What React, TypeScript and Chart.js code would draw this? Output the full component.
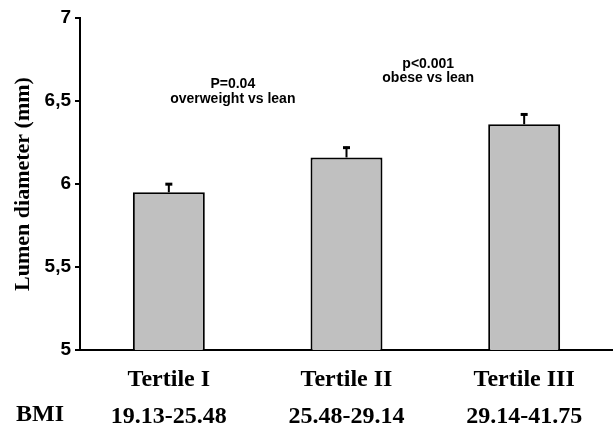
import React, { useEffect, useRef } from "react";
import { Chart, registerables } from "chart.js";

Chart.register(...registerables);

const tertiles = ["Tertile I", "Tertile II", "Tertile III"];
const bmiRanges = ["19.13-25.48", "25.48-29.14", "29.14-41.75"];
const lumenMeans = [5.95, 6.16, 6.36];
const lumenErrors = [0.055, 0.065, 0.065];
const yTicks = [5, 5.5, 6, 6.5, 7];
const annotations = [
  { lines: ["P=0.04", "overweight vs lean"], xIndex: 0.36, yValue: 6.578 },
  { lines: ["p<0.001", "obese vs lean"], xIndex: 1.46, yValue: 6.699 },
];

const SERIF = '"Liberation Serif", "Times New Roman", serif';
const SANS = '"Liberation Sans", Arial, sans-serif';
const LABEL_LINE = 36.5;
const LABEL_PAD = 4;

const errorBarPlugin = {
  id: "errorBars",
  afterDatasetsDraw(chart: any) {
    const ctx = chart.ctx;
    const meta = chart.getDatasetMeta(0);
    const y = chart.scales.y;
    ctx.save();
    ctx.strokeStyle = "#000";
    meta.data.forEach((el: any, i: number) => {
      const top = y.getPixelForValue(lumenMeans[i] + lumenErrors[i]);
      ctx.lineWidth = 2;
      ctx.beginPath();
      ctx.moveTo(el.x, el.y);
      ctx.lineTo(el.x, top);
      ctx.stroke();
      ctx.lineWidth = 3;
      ctx.beginPath();
      ctx.moveTo(el.x - 3.5, top + 1);
      ctx.lineTo(el.x + 3.5, top + 1);
      ctx.stroke();
    });
    ctx.restore();
  },
};

const textPlugin = {
  id: "texts",
  afterDraw(chart: any) {
    const ctx = chart.ctx;
    const xs = chart.scales.x;
    const ys = chart.scales.y;
    const step = xs.getPixelForValue(1) - xs.getPixelForValue(0);
    ctx.save();
    ctx.fillStyle = "#000";
    ctx.textAlign = "center";
    ctx.textBaseline = "alphabetic";
    ctx.font = `bold 14px ${SANS}`;
    annotations.forEach((a) => {
      const x = xs.getPixelForValue(0) + a.xIndex * step;
      const y0 = ys.getPixelForValue(a.yValue);
      a.lines.forEach((line, k) => ctx.fillText(line, x, y0 + k * 14.5));
    });
    ctx.font = `bold 24px ${SERIF}`;
    ctx.textBaseline = "middle";
    const ca = chart.chartArea;
    ctx.fillText("BMI", ca.left / 2, ca.bottom + 10 + LABEL_LINE * 1.5);
    ctx.restore();
  },
};

export default function App() {
  const ref = useRef<HTMLCanvasElement | null>(null);
  useEffect(() => {
    if (!ref.current) return;
    const chart = new Chart(ref.current, {
      type: "bar",
      data: {
        labels: tertiles.map((t, i) => [t, bmiRanges[i]]),
        datasets: [
          {
            data: lumenMeans,
            backgroundColor: "#c0c0c0",
            borderColor: "#000",
            borderWidth: 2,
            categoryPercentage: 1,
            barPercentage: 0.405,
          },
        ],
      },
      options: {
        animation: false,
        responsive: false,
        layout: { padding: { top: 18, right: 0, bottom: 0, left: 0 } },
        plugins: { legend: { display: false }, tooltip: { enabled: false } },
        scales: {
          x: {
            grid: { display: false },
            border: { display: true, color: "#000", width: 2 },
            ticks: {
              color: "#000",
              font: { family: SERIF, size: 24, weight: "bold", lineHeight: LABEL_LINE / 24 },
              padding: LABEL_PAD,
              maxRotation: 0,
              autoSkip: false,
            },
            afterFit: (s: any) => {
              s.height = 77;
            },
          },
          y: {
            min: 5,
            max: 7,
            afterBuildTicks: (s: any) => {
              s.ticks = yTicks.map((v) => ({ value: v }));
            },
            grid: {
              drawOnChartArea: false,
              drawTicks: true,
              tickLength: 5,
              color: "#000",
              lineWidth: 2,
            },
            border: { display: true, color: "#000", width: 2 },
            ticks: {
              color: "#000",
              padding: 4,
              font: { family: SANS, size: 19, weight: "bold" },
              callback: (v: any) => String(v).replace(".", ","),
            },
            title: {
              display: true,
              text: "Lumen diameter (mm)",
              color: "#000",
              font: { family: SERIF, size: 22, weight: "bold" },
              padding: { top: 10, bottom: 0 },
            },
            afterFit: (s: any) => {
              s.width = 80;
            },
          },
        },
      },
      plugins: [errorBarPlugin, textPlugin],
    });
    return () => chart.destroy();
  }, []);
  return (
    <div style={{ position: "absolute", left: 0, top: 0, width: 613, height: 427, background: "#fff" }}>
      <canvas ref={ref} width={613} height={427} style={{ display: "block" }} />
    </div>
  );
}
